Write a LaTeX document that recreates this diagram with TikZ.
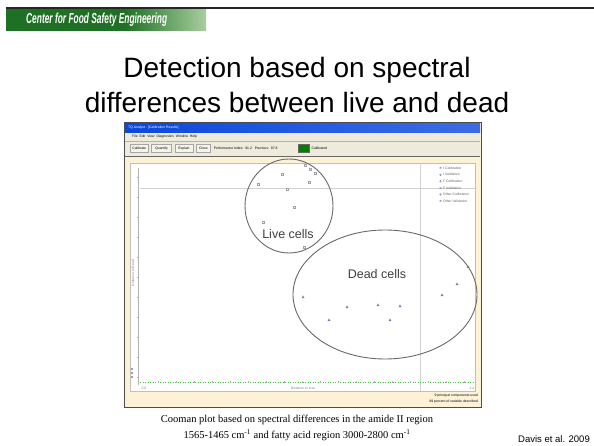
\documentclass[tikz,border=0pt]{standalone}
\usepackage{fontspec}
\setmainfont{Liberation Serif}
\setsansfont{Liberation Sans}
\usepackage{tikz}
\usetikzlibrary{arrows,arrows.meta,positioning}

\definecolor{cfsedark}{RGB}{30,112,36}
\definecolor{cfselight}{RGB}{168,206,158}
\definecolor{wincream}{RGB}{253,242,214}
\definecolor{winblue}{RGB}{12,72,222}
\definecolor{winbar}{RGB}{238,235,220}
\definecolor{ringgray}{RGB}{105,105,105}
\definecolor{markdead}{RGB}{120,125,175}
\definecolor{markalive}{RGB}{160,160,172}

\begin{document}
\begin{tikzpicture}[%
		x=1pt, y=-1pt,
		font=\sffamily,
		>=Latex,
		tiny/.style={font=\sffamily\fontsize{3.4}{4}\selectfont, inner sep=0pt},
		knopf/.style={draw=gray!70, fill=winbar!60, tiny, minimum height=8pt, anchor=west},
		ring/.style={draw=ringgray, line width=0.9pt},
		alive/.style={draw=markalive, fill=white, line width=0.5pt},
		dead/.style={fill=markdead},
		hilfslinie/.style={draw=gray!35, line width=0.5pt}
		]

		\useasboundingbox (0,0) rectangle (594,446);

		%% Kopfzeile
		\fill[cfsedark] (6,9) rectangle (125,31);
		\shade[left color=cfsedark, right color=cfselight] (124.5,9) rectangle (206,31);
		\draw[line width=2pt, black!85] (6,8.5) -- (594,8.5);
		\node[anchor=base west, inner sep=0pt, text=white] (cfse) at (26,24)
			{\resizebox{141pt}{10.5pt}{\bfseries\itshape Center for Food Safety Engineering}};

		%% Titel
		\node[anchor=base, inner sep=0pt, font=\sffamily\fontsize{28}{30}\selectfont] (titel1) at (297,78)
			{Detection based on spectral};
		\node[anchor=base, inner sep=0pt, font=\sffamily\fontsize{28}{30}\selectfont] (titel2) at (297,113)
			{differences between live and dead};

		%% Fenster
		\fill[wincream] (124,123) rectangle (481,407);
		\shade[left color=winblue, right color=winblue!80!white] (125,123.5) rectangle (480,133);
		\fill[winbar] (125,133) rectangle (480,156);
		\draw[gray!60] (125,141) -- (480,141);
		\draw[black!60, line width=0.6pt] (125,156) -- (480,156);
		\draw[black!70, line width=1pt] (124,123) rectangle (481,407);
		\fill[white] (130,163) rectangle (475,391);
		\draw[gray!50] (130,163) rectangle (475,391);

		\node[tiny, anchor=west, text=white] (fenstertitel) at (128,128) {TQ Analyst - [Calibration Results]};
		\node[tiny, anchor=west] (menue) at (132,137) {File\ \ Edit\ \ View\ \ Diagnostics\ \ Window\ \ Help};

		%% Werkzeugleiste
		\node[knopf, minimum width=18pt] (calibrate) at (130,148.5) {Calibrate};
		\node[knopf, minimum width=20pt, right=3pt of calibrate] (quantify) {Quantify};
		\node[knopf, minimum width=18pt, right=3pt of quantify] (explain) {Explain};
		\node[knopf, minimum width=14pt, right=3pt of explain] (close) {Close};
		\node[tiny, anchor=west, right=3pt of close] (perf) {Performance Index:\ \ 91.2\ \ \ Previous:\ \ 97.8};
		\node[draw=black!60, fill=green!50!black, minimum width=11pt, minimum height=8pt, inner sep=0pt, anchor=west] (ampel) at (298,148.5) {};
		\node[tiny, anchor=west, right=2pt of ampel] (calibrated) {Calibrated};

		%% Achsen und Hilfslinien
		\draw[hilfslinie] (140,188) -- (475,188);
		\draw[hilfslinie] (420,163) -- (420,391);
		\draw[gray!60, line width=0.4pt] (138,168) -- (138,385);
		\foreach \y in {177,197,...,377} {
			\draw[gray!60, line width=0.4pt] (136.5,\y) -- (138,\y);
		}
		\draw[green!50!gray, line width=0.5pt, dotted] (140,382) -- (475,382);
		\foreach \x in {158,176,...,470} {
			\draw[gray!60, line width=0.4pt] (\x,381) -- (\x,383);
		}
		\node[tiny, text=gray, rotate=90] (ylabel) at (133,273) {Distance to Dead};
		\node[tiny, text=gray] (xlabel) at (303,388) {Distance to Live};
		\node[tiny, text=gray] (xmin) at (144,388) {0.0};
		\node[tiny, text=gray] (xmax) at (472,388) {2.2};

		%% Legende
		\foreach \txt [count=\i] in {I Calibration, I Validation, F Calibration, F Validation, Other Calibration, Other Validation} {
			\node[tiny, text=gray!80!black, anchor=west] (leg\i) at (443,161.5+6.6*\i) {\txt};
			\draw[markdead, line width=0.3pt] (440.5,161.5+6.6*\i) circle (0.9pt);
		}

		%% Fusszeile im Fenster
		\node[tiny, anchor=east] (pcs) at (478,395.5) {9 principal components used};
		\node[tiny, anchor=east] (pct) at (478,402) {99 percent of variable described};

		%% Messpunkte
		\foreach \px/\py in {282/174, 258/184, 287/189, 294/207, 263/222, 304/247, 305/165, 315/173, 309/182, 310/169} {
			\draw[alive] (\px-1,\py-1) rectangle (\px+1,\py+1);
		}
		\foreach \px/\py in {303/297, 347/307, 378/305, 400/306, 329/320, 390/320, 442/295, 457/284, 468/267} {
			\fill[dead] (\px,\py-1.6) -- (\px+1.4,\py+1) -- (\px-1.4,\py+1) -- cycle;
		}
		\foreach \py in {369,373,377} {
			\fill[markdead] (132,\py) circle (1.1pt);
		}

		%% Markierungen
		\draw[ring] (289,206) ellipse [x radius=44, y radius=47];
		\draw[ring] (385,294.5) ellipse [x radius=92, y radius=64.5];
		\node[font=\sffamily\fontsize{12.5}{14}\selectfont, text=black!75, inner sep=1pt] (live) at (288,234) {Live cells};
		\node[font=\sffamily\fontsize{12.5}{14}\selectfont, text=black!75, inner sep=1pt] (dead) at (377,274) {Dead cells};

		%% Bildunterschrift
		\node[anchor=base, inner sep=0pt, font=\rmfamily\fontsize{10.5}{12}\selectfont] (caption1) at (297,422)
			{Cooman plot based on spectral differences in the amide II region};
		\node[anchor=base, inner sep=0pt, font=\rmfamily\fontsize{10.5}{12}\selectfont] (caption2) at (297,438)
			{1565-1465 cm\textsuperscript{-1} and fatty acid region 3000-2800 cm\textsuperscript{-1}};
		\node[anchor=base east, inner sep=0pt, font=\sffamily\fontsize{9.5}{11}\selectfont] (quelle) at (590,442)
			{Davis et al. 2009};

	\end{tikzpicture}
\end{document}
